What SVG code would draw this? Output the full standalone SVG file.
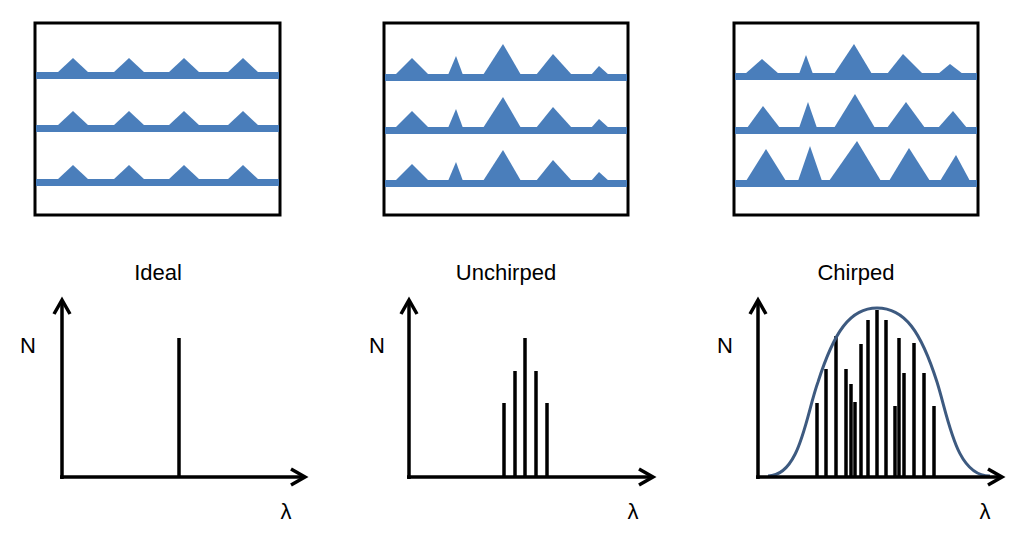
<svg xmlns="http://www.w3.org/2000/svg" width="1024" height="534" viewBox="0 0 1024 534">
<style>
.box{fill:#fff;stroke:#000;stroke-width:3}
.band{fill:#4a7ebb}
.ax{fill:none;stroke:#000;stroke-width:3.5;stroke-linejoin:miter}
.bar{stroke:#000;stroke-width:3.5}
.t{font-family:"Liberation Sans",Arial,sans-serif;font-size:22px;fill:#000}
</style>
<rect width="1024" height="534" fill="#fff"/>
<g id="panel-ideal">
<rect class="box" x="35" y="23" width="245" height="192"/>
<g class="band">
<rect x="36" y="72" width="243" height="7"/><polygon points="57,73 73,58 89,73"/><polygon points="113,73 129,58 145,73"/><polygon points="168,73 184,58 200,73"/><polygon points="227,73 243,58 259,73"/>
<rect x="36" y="125" width="243" height="7"/><polygon points="57,126 73,111 89,126"/><polygon points="113,126 129,111 145,126"/><polygon points="168,126 184,111 200,126"/><polygon points="227,126 243,111 259,126"/>
<rect x="36" y="179" width="243" height="7"/><polygon points="57,180 73,165 89,180"/><polygon points="113,180 129,165 145,180"/><polygon points="168,180 184,165 200,180"/><polygon points="227,180 243,165 259,180"/>
</g>
</g>
<g id="panel-unchirped">
<rect class="box" x="384" y="23" width="244" height="192"/>
<g class="band">
<rect x="385" y="74" width="242" height="7"/><polygon points="395,75 412,58 429,75"/><polygon points="448,75 456,56 463,75"/><polygon points="483,75 503,44 521,75"/><polygon points="536,75 553,54 572,75"/><polygon points="591,75 599,66 609,75"/>
<rect x="385" y="127" width="242" height="7"/><polygon points="395,128 412,111 429,128"/><polygon points="448,128 456,109 463,128"/><polygon points="483,128 503,97 521,128"/><polygon points="536,128 553,107 572,128"/><polygon points="591,128 599,119 609,128"/>
<rect x="385" y="180" width="242" height="7"/><polygon points="395,181 412,164 429,181"/><polygon points="448,181 456,162 463,181"/><polygon points="483,181 503,150 521,181"/><polygon points="536,181 553,160 572,181"/><polygon points="591,181 599,172 609,181"/>
</g>
</g>
<g id="panel-chirped">
<rect class="box" x="734" y="23" width="244" height="192"/>
<g class="band">
<rect x="735" y="73" width="242" height="7"/><polygon points="745,74 762,59 779,74"/><polygon points="799,74 806,55 813,74"/><polygon points="834,74 854,44 872,74"/><polygon points="887,74 903,54 923,74"/><polygon points="938,74 950,64 963,74"/>
<rect x="735" y="127" width="242" height="7"/><polygon points="747,128 763,106 780,128"/><polygon points="799,128 808,102 817,128"/><polygon points="834,128 855,94 875,128"/><polygon points="887,128 906,102 925,128"/><polygon points="938,128 953,111 967,128"/>
<rect x="735" y="180" width="242" height="7"/><polygon points="746,181 766,149 786,181"/><polygon points="798,181 810,146 822,181"/><polygon points="829,181 857,141 881,181"/><polygon points="889,181 909,148 930,181"/><polygon points="940,181 956,155 970,181"/>
</g>
</g>
<g id="plot-ideal">
<text class="t" x="158" y="280" text-anchor="middle">Ideal</text>
<polyline class="ax" points="62,479 62,300"/><polyline class="ax" points="54,314 62,300 70,314"/>
<polyline class="ax" points="60,477 305,477"/><polyline class="ax" points="291,469 305,477 291,485"/>
<text class="t" x="28" y="353" text-anchor="middle">N</text>
<text class="t" x="286" y="519" text-anchor="middle">λ</text>
<line class="bar" x1="179" y1="338" x2="179" y2="477"/>
</g>
<g id="plot-unchirped">
<text class="t" x="506" y="280" text-anchor="middle">Unchirped</text>
<polyline class="ax" points="409,479 409,300"/><polyline class="ax" points="401,314 409,300 417,314"/>
<polyline class="ax" points="407,477 653,477"/><polyline class="ax" points="639,469 653,477 639,485"/>
<text class="t" x="377" y="353" text-anchor="middle">N</text>
<text class="t" x="633" y="519" text-anchor="middle">λ</text>
<line class="bar" x1="504" y1="403" x2="504" y2="477"/><line class="bar" x1="515" y1="371" x2="515" y2="477"/><line class="bar" x1="525" y1="338" x2="525" y2="477"/><line class="bar" x1="536" y1="371" x2="536" y2="477"/><line class="bar" x1="547" y1="403" x2="547" y2="477"/>
</g>
<g id="plot-chirped">
<text class="t" x="856" y="280" text-anchor="middle">Chirped</text>
<g class="bar">
<line x1="817" y1="403" x2="817" y2="477"/><line x1="826" y1="369" x2="826" y2="477"/><line x1="836" y1="336" x2="836" y2="477"/><line x1="846" y1="369" x2="846" y2="477"/><line x1="851" y1="384" x2="851" y2="477"/><line x1="855" y1="402" x2="855" y2="477"/><line x1="861" y1="344" x2="861" y2="477"/><line x1="868" y1="320" x2="868" y2="477"/><line x1="877" y1="310" x2="877" y2="477"/><line x1="886" y1="320" x2="886" y2="477"/><line x1="895" y1="406" x2="895" y2="477"/><line x1="899" y1="338" x2="899" y2="477"/><line x1="904" y1="373" x2="904" y2="477"/><line x1="914" y1="343" x2="914" y2="477"/><line x1="924" y1="373" x2="924" y2="477"/><line x1="934" y1="406" x2="934" y2="477"/>
</g>
<path d="M768,476 C800,476 806,415 818,382 C834,332 850,308 877,308 C905,308 921,332 937,382 C949,420 956,476 990,476" fill="none" stroke="#3d5a80" stroke-width="3"/>
<polyline class="ax" points="758,479 758,300"/><polyline class="ax" points="750,314 758,300 766,314"/>
<polyline class="ax" points="756,477 1002,477"/><polyline class="ax" points="988,469 1002,477 988,485"/>
<text class="t" x="725" y="353" text-anchor="middle">N</text>
<text class="t" x="985" y="519" text-anchor="middle">λ</text>
</g>
</svg>
